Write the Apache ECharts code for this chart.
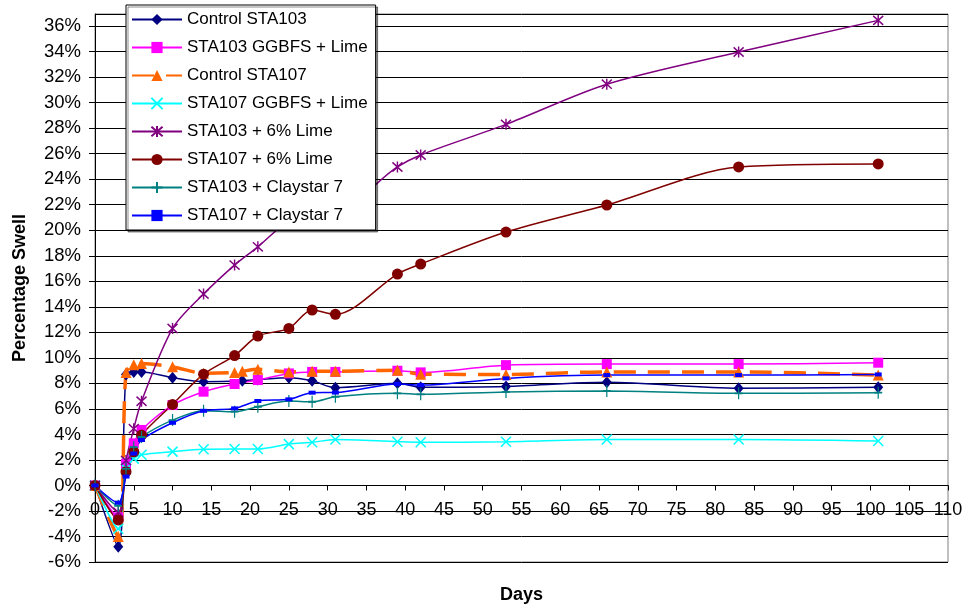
<!DOCTYPE html>
<html><head><meta charset="utf-8">
<script src="https://cdn.jsdelivr.net/npm/echarts@6/dist/echarts.min.js"></script>
<style>html,body{margin:0;padding:0;background:#fff}#c{width:963px;height:608px}</style>
</head><body><div id="c"></div>
<script>
// Days of measurement
const daysT    = [0,3,4,5,6,10,14,18,21,25,28,31,39,42,53,66,83,101];
const daysC103 = [0,3,4,5,6,10,14,19,21,25,28,31,39,42,53,66,83,101];
const daysC107 = [0,3,4,5,6,10,14,18,19,21,25,28,31,39,42,53,66,83,101];

// Percentage swell values (%)
const control103 = [0,-4.8,8.7,8.9,8.9,8.45,8.13,8.2,8.3,8.45,8.2,7.66,8.0,7.7,7.76,8.08,7.62,7.7];
const ggbfs103   = [0,-2.5,1.7,3.3,4.35,6.3,7.35,7.95,8.26,8.78,8.9,8.9,8.99,8.86,9.43,9.51,9.51,9.62];
const control107 = [0,-4.0,8.85,9.45,9.55,9.3,8.8,8.85,8.95,9.1,8.9,8.95,8.95,9.02,8.72,8.7,8.9,8.9,8.65];
const ggbfs107   = [0,-3.4,1.3,2.1,2.4,2.65,2.83,2.85,2.85,3.24,3.38,3.6,3.43,3.38,3.43,3.6,3.6,3.48];
const lime103    = [0,-2.1,1.95,4.45,6.6,12.3,15.0,17.27,18.7,20.8,21.7,21.66,24.96,25.9,28.3,31.45,33.97,36.45];
const lime107    = [0,-2.7,1.08,2.64,3.95,6.35,8.72,10.18,11.71,12.31,13.75,13.41,16.57,17.35,19.86,21.98,24.96,25.2];
const clay103    = [0,-1.6,1.3,3.0,3.8,5.12,5.86,5.78,6.17,6.61,6.56,6.95,7.22,7.14,7.33,7.4,7.22,7.27];
const clay107    = [0,-1.35,0.7,2.5,3.56,4.91,5.85,6.04,6.62,6.75,7.27,7.28,7.95,7.87,8.39,8.65,8.65,8.7];

const seriesNames = ['Control STA103','STA103 GGBFS + Lime','Control STA107','STA107 GGBFS + Lime',
  'STA103 + 6% Lime','STA107 + 6% Lime','STA103 + Claystar 7','STA107 + Claystar 7'];
const xTicks = {min:0, max:110, interval:5};
const yTicks = {min:-6, max:36.95, interval:2};

const FONT = 'Liberation Sans, Arial, sans-serif';
const pairs = (d, v) => d.map((x, i) => [x, v[i]]);
const X_PATH = 'path://M0,0L10,10M10,0L0,10';
const STAR_PATH = 'path://M0,0L10,10M10,0L0,10M5,-1L5,11';
const PLUS_PATH = 'path://M5,0L5,12M1,6L9,6';
const DASH_PATH = 'path://M0,0L8,0L8,3L0,3Z';

const GRID = {left: 95, right: 15, top: 14, bottom: 46};
const plotH = 608 - GRID.top - GRID.bottom;
// place the x axis line at value 0 of the y axis
const xAxisOffset = -((0 - yTicks.min) / (yTicks.max - yTicks.min)) * plotH;

function mk(name, data, color, symbol, size, extra) {
  const s = {
    name, type: 'line', data, smooth: 0.3,
    symbol, symbolSize: size,
    lineStyle: {color, width: 1.5},
    itemStyle: {color},
    z: 2
  };
  return Object.assign(s, extra || {});
}

const series = [
  mk(seriesNames[0], pairs(daysC103, control103), '#000080', 'diamond', [10,12]),
  mk(seriesNames[1], pairs(daysT, ggbfs103), '#FF00FF', 'rect', [10,10]),
  mk(seriesNames[2], pairs(daysC107, control107), '#FF6600', 'triangle', [11,11],
     {lineStyle:{color:'#FF6600', width:3.5, type:[22,12]}}),
  mk(seriesNames[3], pairs(daysT, ggbfs107), '#00FFFF', X_PATH, [10,10],
     {itemStyle:{color:'#00FFFF', borderColor:'#00FFFF', borderWidth:1.5}}),
  mk(seriesNames[4], pairs(daysT, lime103), '#800080', STAR_PATH, [10,11],
     {itemStyle:{color:'#800080', borderColor:'#800080', borderWidth:1.5}}),
  mk(seriesNames[5], pairs(daysT, lime107), '#800000', 'circle', 11),
  mk(seriesNames[6], pairs(daysT, clay103), '#008080', PLUS_PATH, [8,12],
     {itemStyle:{color:'#008080', borderColor:'#008080', borderWidth:1.5}}),
  mk(seriesNames[7], pairs(daysT, clay107), '#0000FF', DASH_PATH, [7,4])
];

const chart = echarts.init(document.getElementById('c'), null, {renderer:'canvas'});
chart.setOption({
  animation: false,
  backgroundColor: '#fff',
  textStyle: {fontFamily: FONT},
  grid: Object.assign({show: true, outerBoundsMode: 'none',
    borderColor: '#808080', borderWidth: 1, backgroundColor: '#fff'}, GRID),
  legend: {
    data: seriesNames, orient: 'vertical', left: 126, top: 5,
    itemWidth: 50, itemHeight: 14, itemGap: 11,
    padding: [6, 8, 6, 5],
    backgroundColor: '#fff', borderColor: '#000', borderWidth: 1,
    shadowColor: 'rgba(0,0,0,0.45)', shadowOffsetX: 2, shadowOffsetY: 2,
    textStyle: {fontFamily: FONT, fontSize: 17, color: '#000'}
  },
  xAxis: {
    type: 'value', min: xTicks.min, max: xTicks.max, interval: xTicks.interval,
    position: 'bottom', offset: xAxisOffset,
    name: 'Days', nameLocation: 'middle', nameGap: 101,
    nameTextStyle: {fontFamily: FONT, fontSize: 18, fontWeight: 'bold', color: '#000'},
    axisLine: {onZero: false, lineStyle: {color: '#000', width: 1}},
    axisTick: {show: true, length: 5, lineStyle: {color: '#000'}},
    axisLabel: {margin: 16, fontFamily: FONT, fontSize: 18, color: '#000'},
    splitLine: {show: false}
  },
  yAxis: {
    type: 'value', min: yTicks.min, max: yTicks.max, interval: yTicks.interval,
    name: 'Percentage Swell', nameLocation: 'middle', nameGap: 66,
    nameTextStyle: {fontFamily: FONT, fontSize: 18, fontWeight: 'bold', color: '#000'},
    axisLine: {show: true, onZero: false, lineStyle: {color: '#000', width: 1}},
    axisTick: {show: true, length: 6, lineStyle: {color: '#000'}},
    axisLabel: {margin: 14, fontFamily: FONT, fontSize: 18.5, color: '#000', showMaxLabel: false,
      formatter: v => v + '%'},
    splitLine: {show: true, lineStyle: {color: '#000', width: 1}}
  },
  series
});
</script>
</body></html>
